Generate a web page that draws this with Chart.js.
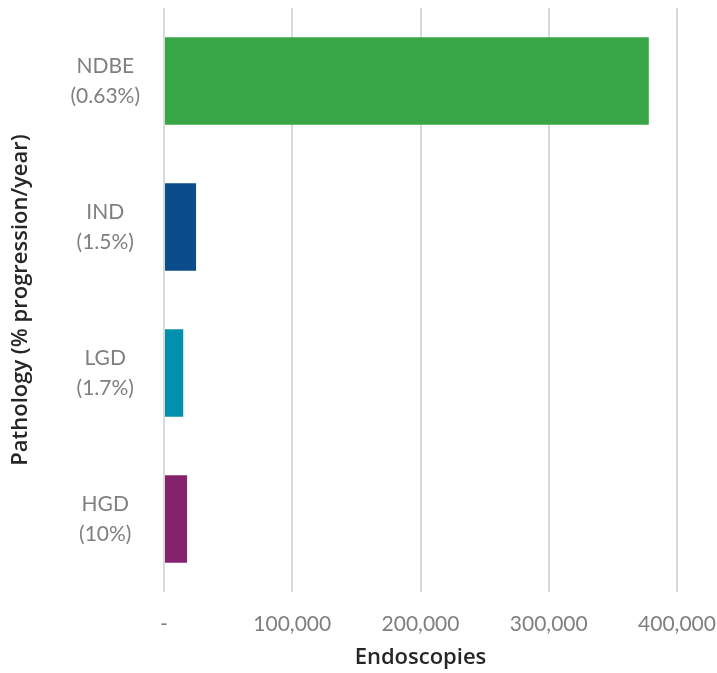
<!DOCTYPE html>
<html>
<head>
<meta charset="utf-8">
<script src="https://cdn.jsdelivr.net/npm/chart.js@4/dist/chart.umd.min.js"></script>
<style>
  html, body { margin: 0; padding: 0; background: #fff; }
  #wrap { width: 717px; height: 673px; }
</style>
</head>
<body>
<div id="wrap"><canvas id="pathChart"></canvas></div>
<script>
// pathology groups with yearly progression rate, and endoscopy counts
const categories = [['NDBE', '(0.63%)'], ['IND', '(1.5%)'], ['LGD', '(1.7%)'], ['HGD', '(10%)']];
const endoscopies = [378000, 25000, 15000, 18000];
const barColors = ['#38a646', '#0b4c8a', '#0090ae', '#85226c'];
const xTicks = [0, 100000, 200000, 300000, 400000];

const tickGray = '#7f7f7f';
const titleColor = '#262626';
const titleFont = { family: 'Open Sans', size: 22, weight: '600' };

const ctx = document.getElementById('pathChart').getContext('2d');
const pathChart = new Chart(ctx, {
  type: 'bar',
  data: {
    labels: categories,
    datasets: [{
      data: endoscopies,
      backgroundColor: barColors,
      borderWidth: 0,
      categoryPercentage: 1,
      barPercentage: 0.6
    }]
  },
  options: {
    indexAxis: 'y',
    responsive: true,
    maintainAspectRatio: false,
    animation: false,
    layout: { padding: { top: 8, right: 40, left: 0, bottom: 0 } },
    plugins: {
      legend: { display: false },
      tooltip: { enabled: false }
    },
    scales: {
      x: {
        min: xTicks[0],
        max: xTicks[xTicks.length - 1],
        afterBuildTicks: scale => { scale.ticks = xTicks.map(v => ({ value: v })); },
        afterFit: scale => {
          scale.height = 81;
          scale.paddingLeft = 0;
          scale.paddingRight = 0;
        },
        grid: { color: '#d9d9d9', lineWidth: 2, drawTicks: false },
        border: { display: false },
        ticks: {
          padding: 20,
          color: tickGray,
          font: { family: 'Lato', size: 21 },
          callback: v => v === 0 ? '-' : v.toLocaleString('en-US')
        },
        title: {
          display: true,
          text: 'Endoscopies',
          color: titleColor,
          font: titleFont,
          padding: { top: 0, bottom: 2 }
        }
      },
      y: {
        afterFit: scale => {
          scale.width = 164;
          scale.paddingTop = 0;
          scale.paddingBottom = 0;
        },
        grid: { display: false, drawTicks: false },
        border: { display: false },
        ticks: {
          padding: 24,
          crossAlign: 'center',
          color: tickGray,
          font: { family: 'Lato', size: 21, lineHeight: 1.45 }
        },
        title: {
          display: true,
          text: 'Pathology (% progression/year)',
          color: titleColor,
          font: titleFont,
          padding: { top: 8, bottom: 0 }
        }
      }
    }
  }
});
</script>
</body>
</html>
